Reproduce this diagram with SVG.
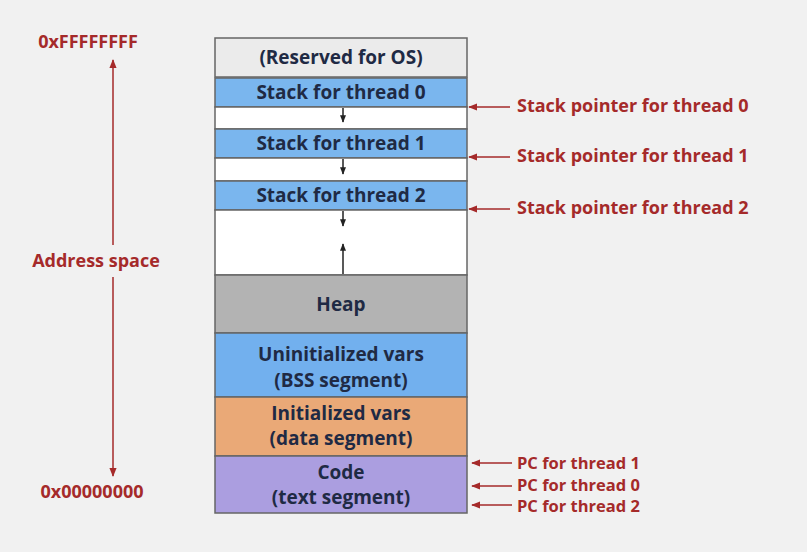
<svg xmlns="http://www.w3.org/2000/svg" width="807" height="552" viewBox="0 0 807 552">
<defs>
<marker id="ah" viewBox="0 0 10 10" refX="9" refY="5" markerWidth="6" markerHeight="6" orient="auto-start-reverse"><path d="M0,1 L10,5 L0,9 z" fill="#a52a2a"/></marker>
<marker id="bk" viewBox="0 0 10 10" refX="9" refY="5" markerWidth="5" markerHeight="5" orient="auto"><path d="M0,1 L10,5 L0,9 z" fill="#222"/></marker>
<style>
.seg{stroke:#666;stroke-width:1.5}
.t{font-family:"Open Sans","Liberation Sans",sans-serif;font-weight:bold;font-size:19px;fill:#1f2a44;text-anchor:middle}
.r{font-family:"Open Sans","Liberation Sans",sans-serif;font-weight:bold;font-size:18px;fill:#a52a2a}
.p{font-size:16.5px}
.rl{stroke:#a52a2a;stroke-width:1.5;fill:none}
.bl{stroke:#222;stroke-width:1.5;fill:none}
</style>
</defs>
<rect width="807" height="552" fill="#f1f1f1"/>
<g id="reserved"><rect class="seg" x="215" y="38" width="252" height="39" fill="#ebebeb"/><text class="t" x="341" y="64">(Reserved for OS)</text></g>
<g id="stack0"><rect class="seg" x="215" y="78" width="252" height="29" fill="#7ab6ee"/><text class="t" x="341" y="99">Stack for thread 0</text></g>
<g id="gap0"><rect class="seg" x="215" y="107" width="252" height="22" fill="#fff"/></g>
<g id="stack1"><rect class="seg" x="215" y="129" width="252" height="29" fill="#7ab6ee"/><text class="t" x="341" y="150">Stack for thread 1</text></g>
<g id="gap1"><rect class="seg" x="215" y="158" width="252" height="23" fill="#fff"/></g>
<g id="stack2"><rect class="seg" x="215" y="181" width="252" height="29" fill="#7ab6ee"/><text class="t" x="341" y="202">Stack for thread 2</text></g>
<g id="free"><rect class="seg" x="215" y="210" width="252" height="65" fill="#fff"/></g>
<g id="heap"><rect class="seg" x="215" y="275" width="252" height="58" fill="#b3b3b3"/><text class="t" x="341" y="311">Heap</text></g>
<g id="bss"><rect class="seg" x="215" y="333" width="252" height="64" fill="#72b0ee"/><text class="t" x="341" y="361">Uninitialized vars</text><text class="t" x="341" y="387">(BSS segment)</text></g>
<g id="data"><rect class="seg" x="215" y="397" width="252" height="59" fill="#eaa977"/><text class="t" x="341" y="420">Initialized vars</text><text class="t" x="341" y="445">(data segment)</text></g>
<g id="code"><rect class="seg" x="215" y="456" width="252" height="57" fill="#ab9ee0"/><text class="t" x="341" y="479">Code</text><text class="t" x="341" y="504">(text segment)</text></g>
<g id="addr"><text class="r" x="88" y="48" text-anchor="middle">0xFFFFFFFF</text><text class="r" x="96" y="267" text-anchor="middle">Address space</text><text class="r" x="92" y="498" text-anchor="middle">0x00000000</text></g>
<g id="labels"><text class="r" x="517" y="112">Stack pointer for thread 0</text><text class="r" x="517" y="162">Stack pointer for thread 1</text><text class="r" x="517" y="214">Stack pointer for thread 2</text><text class="r p" x="517" y="469">PC for thread 1</text><text class="r p" x="517" y="491">PC for thread 0</text><text class="r p" x="517" y="512">PC for thread 2</text></g>
<g id="connectors">
<line class="rl" x1="113" y1="245" x2="113" y2="60" marker-end="url(#ah)"/>
<line class="rl" x1="113" y1="277" x2="113" y2="476" marker-end="url(#ah)"/>
<line class="rl" x1="510" y1="107" x2="469" y2="107" marker-end="url(#ah)"/>
<line class="rl" x1="510" y1="157" x2="469" y2="157" marker-end="url(#ah)"/>
<line class="rl" x1="510" y1="209" x2="469" y2="209" marker-end="url(#ah)"/>
<line class="rl" x1="512" y1="463" x2="472" y2="463" marker-end="url(#ah)"/>
<line class="rl" x1="512" y1="486" x2="472" y2="486" marker-end="url(#ah)"/>
<line class="rl" x1="512" y1="505" x2="472" y2="505" marker-end="url(#ah)"/>
<line class="bl" x1="343" y1="108" x2="343" y2="122" marker-end="url(#bk)"/>
<line class="bl" x1="343" y1="159" x2="343" y2="174" marker-end="url(#bk)"/>
<line class="bl" x1="343" y1="211" x2="343" y2="226" marker-end="url(#bk)"/>
<line class="bl" x1="343" y1="274" x2="343" y2="244" marker-end="url(#bk)"/>
</g>
</svg>
